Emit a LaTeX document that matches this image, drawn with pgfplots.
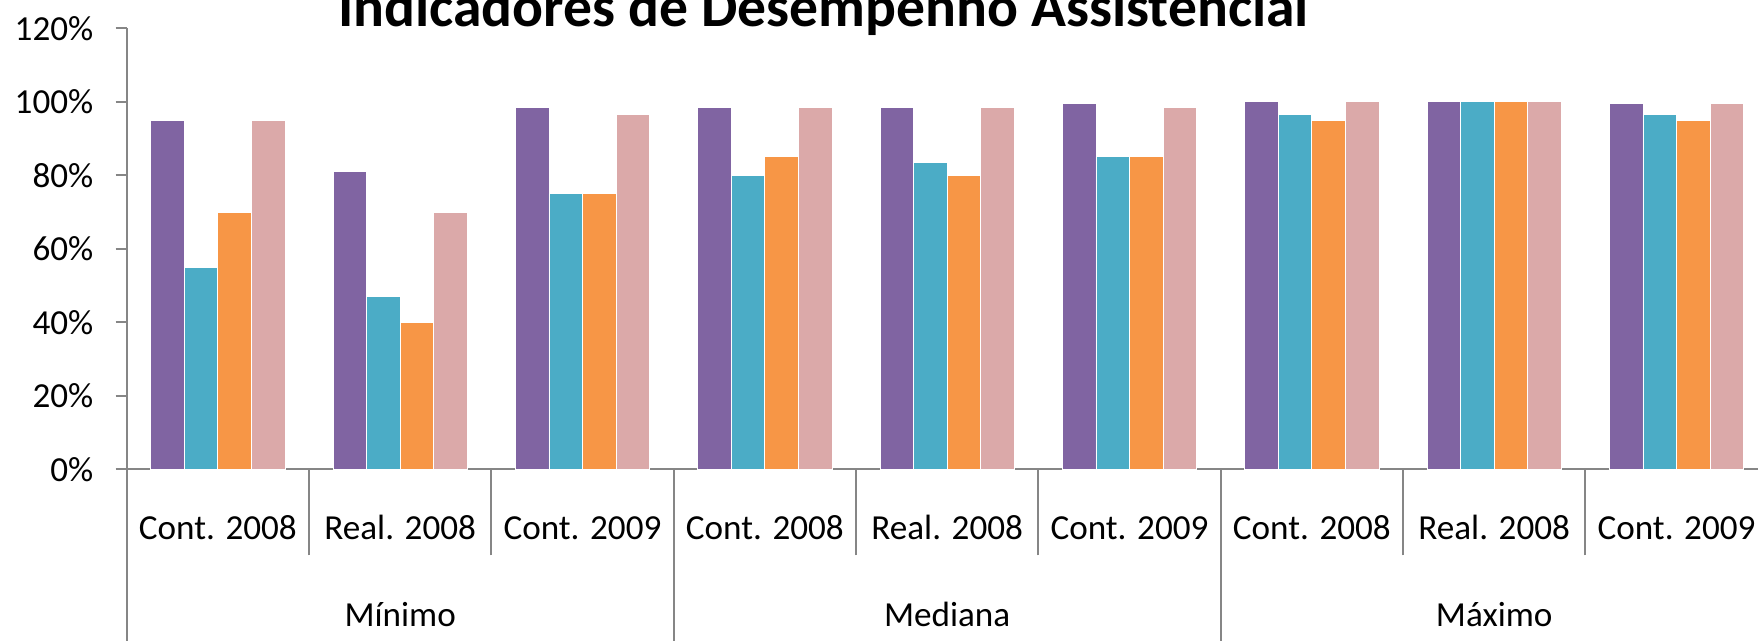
\documentclass[border=0pt]{standalone}
\usepackage{fontspec}
\setmainfont{Carlito}
\usepackage{pgfplots}
\pgfplotsset{compat=1.18}
\definecolor{cpurple}{HTML}{8064A2}
\definecolor{ccyan}{HTML}{4BACC6}
\definecolor{corange}{HTML}{F79646}
\definecolor{cpink}{HTML}{DBA9A9}
\definecolor{axgray}{HTML}{868686}
\begin{document}
\begin{tikzpicture}
\path[use as bounding box] (0,0) rectangle (175.8mm,64mm);
\clip (0,0) rectangle (175.8mm,64mm);
\begin{axis}[
  at={(12.67mm,17.07mm)}, anchor=south west,
  scale only axis, width=164.1mm, height=44.1mm,
  xmin=-0.5, xmax=8.5, ymin=0, ymax=120,
  ybar, bar width=0.184,
  clip=false,
  axis lines*=left,
  axis line style={draw=axgray, line width=0.6pt},
  tick style={draw=axgray, line width=0.6pt},
  tick align=outside,
  xtick={0,...,8},
  xticklabels={Cont. 2008, Real. 2008, Cont. 2009, Cont. 2008, Real. 2008, Cont. 2009, Cont. 2008, Real. 2008, Cont. 2009},
  major x tick style={draw=none},
  minor xtick={0.5,1.5,3.5,4.5,6.5,7.5},
  minor tick length=8.6mm,
  extra x ticks={-0.5,2.5,5.5,8.5},
  extra x tick labels={},
  extra x tick style={major tick length=25mm, major x tick style={draw=axgray, line width=0.6pt}},
  xticklabel style={font=\fontsize{10}{12}\selectfont, anchor=base, yshift=-5.95mm},
  ytick={0,20,...,120},
  yticklabels={0\%,20\%,40\%,60\%,80\%,100\%,120\%},
  ytick pos=left,
  major tick length=1.1mm,
  yticklabel style={font=\fontsize{10}{12}\selectfont, anchor=east},
  yticklabel shift=1.0mm,
  /pgf/number format/assume math mode=true,
  every axis plot/.append style={draw=white, line width=0.25pt},
]
\addplot[fill=cpurple, bar shift=-0.276] coordinates {(0,95) (1,81) (2,98.5) (3,98.5) (4,98.5) (5,99.5) (6,100) (7,100) (8,99.5)};
\addplot[fill=ccyan, bar shift=-0.092] coordinates {(0,55) (1,47) (2,75) (3,80) (4,83.5) (5,85) (6,96.5) (7,100) (8,96.5)};
\addplot[fill=corange, bar shift=0.092] coordinates {(0,70) (1,40) (2,75) (3,85) (4,80) (5,85) (6,95) (7,100) (8,95)};
\addplot[fill=cpink, bar shift=0.276] coordinates {(0,95) (1,70) (2,96.5) (3,98.5) (4,98.5) (5,98.5) (6,100) (7,100) (8,99.5)};
\node[font=\fontsize{10}{12}\selectfont, anchor=base, yshift=-15.67mm] at (axis cs:1,0) {Mínimo};
\node[font=\fontsize{10}{12}\selectfont, anchor=base, yshift=-15.67mm] at (axis cs:4,0) {Mediana};
\node[font=\fontsize{10}{12}\selectfont, anchor=base, yshift=-15.67mm] at (axis cs:7,0) {Máximo};
\end{axis}
\node[anchor=base, font=\bfseries\fontsize{16.4}{19}\selectfont] at (82.35mm,61.33mm) {Indicadores de Desempenho Assistencial};
\end{tikzpicture}
\end{document}
